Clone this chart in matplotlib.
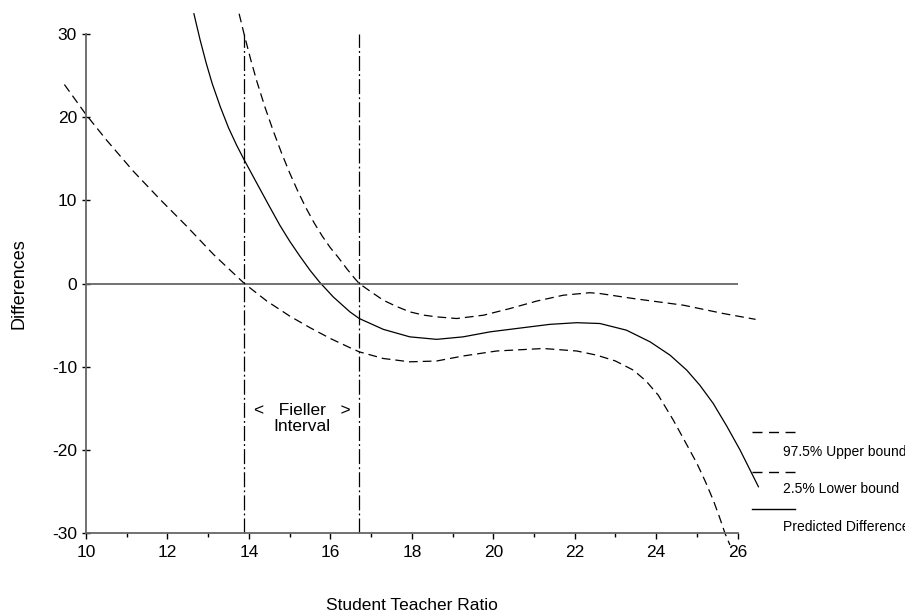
import matplotlib
matplotlib.use('Agg')
import matplotlib.pyplot as plt
from matplotlib.lines import Line2D
from matplotlib.ticker import FixedLocator

plt.rcParams['font.family'] = ['Liberation Sans', 'DejaVu Sans']

# Predicted difference (solid line)
pred_x = [12.65, 12.8, 12.95, 13.1, 13.3, 13.5, 13.7, 13.89, 14.1, 14.3,
          14.5, 14.76, 15.0, 15.25, 15.5, 15.73, 16.07, 16.48, 16.71, 17.3,
          17.95, 18.61, 19.26, 19.92, 20.57, 21.39, 22.05, 22.62, 23.27, 23.85,
          24.34, 24.75, 25.07, 25.4, 25.73, 26.06, 26.51]
pred_y = [32.4, 29.3, 26.5, 24.0, 21.2, 18.7, 16.6, 14.8, 12.9, 11.1,
          9.3, 7.0, 5.1, 3.3, 1.6, 0.2, -1.6, -3.4, -4.2, -5.5,
          -6.4, -6.7, -6.4, -5.8, -5.4, -4.9, -4.7, -4.8, -5.6, -7.0,
          -8.6, -10.4, -12.2, -14.4, -17.1, -20.0, -24.4]

# 97.5% upper bound (dashed)
upper_x = [13.76, 13.89, 14.05, 14.2, 14.4, 14.6, 14.8, 15.0, 15.2, 15.4,
           15.6, 15.8, 16.0, 16.2, 16.4, 16.6, 16.71, 17.0, 17.3, 17.6,
           17.95, 18.3, 18.61, 19.1, 19.76, 20.41, 21.07, 21.72, 22.37, 22.62,
           23.44, 24.67, 25.65, 26.44]
upper_y = [32.4, 29.8, 26.8, 24.2, 21.1, 18.3, 15.7, 13.3, 11.1, 9.1,
           7.3, 5.7, 4.3, 3.1, 1.8, 0.6, 0.0, -1.0, -2.0, -2.7,
           -3.4, -3.8, -4.0, -4.2, -3.8, -3.0, -2.1, -1.4, -1.1, -1.2,
           -1.8, -2.6, -3.6, -4.3]

# 2.5% lower bound (dashed)
lower_x = [9.47, 10.0, 10.51, 11.16, 11.82, 12.47, 13.13, 13.89, 14.44, 15.0,
           15.5, 16.0, 16.48, 16.71, 17.3, 17.95, 18.61, 19.26, 20.08, 21.23,
           22.05, 22.54, 23.0, 23.44, 23.75, 24.05, 24.42, 24.7, 25.0, 25.2,
           25.4, 25.55, 25.69, 25.81]
lower_y = [23.9, 20.3, 17.2, 13.5, 10.1, 6.9, 3.5, 0.0, -2.1, -3.9,
           -5.3, -6.6, -7.7, -8.2, -9.0, -9.4, -9.3, -8.7, -8.1, -7.8,
           -8.1, -8.6, -9.3, -10.4, -11.7, -13.4, -16.4, -18.9, -21.6, -23.7,
           -26.0, -28.0, -30.0, -31.4]

# Fieller interval limits
fieller = [13.89, 16.71]

x_ticks = [10, 12, 14, 16, 18, 20, 22, 24, 26]
x_minor = [11, 13, 15, 17, 19, 21, 23, 25]
y_ticks = [-30, -20, -10, 0, 10, 20, 30]

legend_labels = ['97.5% Upper bound', '2.5% Lower bound', 'Predicted Difference']

GRAY = '#666666'


def plot_fieller():
    fig = plt.figure(figsize=(9.05, 6.14), dpi=100)
    ax = fig.add_axes([0.0635, 0.1042, 0.7966, 0.8951])

    ax.set_xlim(9.3, 27.0)
    ax.set_ylim(-32, 34)

    # curves
    ax.plot(pred_x, pred_y, color='black', linewidth=0.9)
    ax.plot(upper_x, upper_y, color='black', linewidth=0.9, dashes=(7, 4))
    ax.plot(lower_x, lower_y, color='black', linewidth=0.9, dashes=(7, 4))

    # zero line and Fieller interval limits
    ax.hlines(0, 10, 26, color=GRAY, linewidth=1.3)
    ax.vlines(fieller, -30, 30, color='black', linewidth=0.9,
              linestyles=[(0, (12, 2.5, 1.5, 2.5))])

    ax.text(15.3, -15.2, '<   Fieller   >', ha='center', va='center', fontsize=12.5)
    ax.text(15.3, -17.2, 'Interval', ha='center', va='center', fontsize=12.5)

    # axes styling
    for side in ['top', 'right']:
        ax.spines[side].set_visible(False)
    ax.spines['left'].set_position(('data', 10))
    ax.spines['bottom'].set_position(('data', -30))
    ax.spines['left'].set_bounds(-30, 30)
    ax.spines['bottom'].set_bounds(10, 26)
    for side in ['left', 'bottom']:
        ax.spines[side].set_color(GRAY)
        ax.spines[side].set_linewidth(1.3)

    ax.set_xticks(x_ticks)
    ax.set_yticks(y_ticks)
    ax.set_yticklabels([str(v) for v in y_ticks])
    ax.xaxis.set_minor_locator(FixedLocator(x_minor))
    ax.tick_params(axis='x', which='major', direction='out', length=4.5, width=1,
                   color='black', pad=4, labelsize=12.5)
    ax.tick_params(axis='x', which='minor', direction='out', length=3, width=1,
                   color='black')
    ax.tick_params(axis='y', which='major', direction='inout', length=6, width=1,
                   color='black', pad=3.5, labelsize=12.5)

    ax.set_xlabel('Student Teacher Ratio', fontsize=12.5)
    ax.xaxis.set_label_coords((18 - 9.3) / (27.0 - 9.3), (614 - 605 - 64) / 549.6)
    ax.xaxis.label.set_va('center')
    ax.set_ylabel('Differences', fontsize=13)
    ax.yaxis.set_label_coords((19.5 - 57.5) / 720.9, (550 - 283.3) / 549.6)
    ax.yaxis.label.set_va('center')

    # hand-drawn legend at the lower right
    line_y = [0.2969, 0.2318, 0.1705]
    text_y = [0.2643, 0.2036, 0.1422]
    styles = [(7.2, 4.7), (7.2, 4.7), None]
    for ly, ty, lab, ds in zip(line_y, text_y, legend_labels, styles):
        ln = Line2D([0.8306, 0.8785], [ly, ly], transform=fig.transFigure,
                    color='black', linewidth=1.0)
        if ds is not None:
            ln.set_dashes(ds)
        fig.add_artist(ln)
        fig.text(0.8655, ty, lab, fontsize=10, va='center', ha='left')

    fig.savefig('out.png', dpi=100)


def main():
    plot_fieller()


if __name__ == "__main__":
    main()
